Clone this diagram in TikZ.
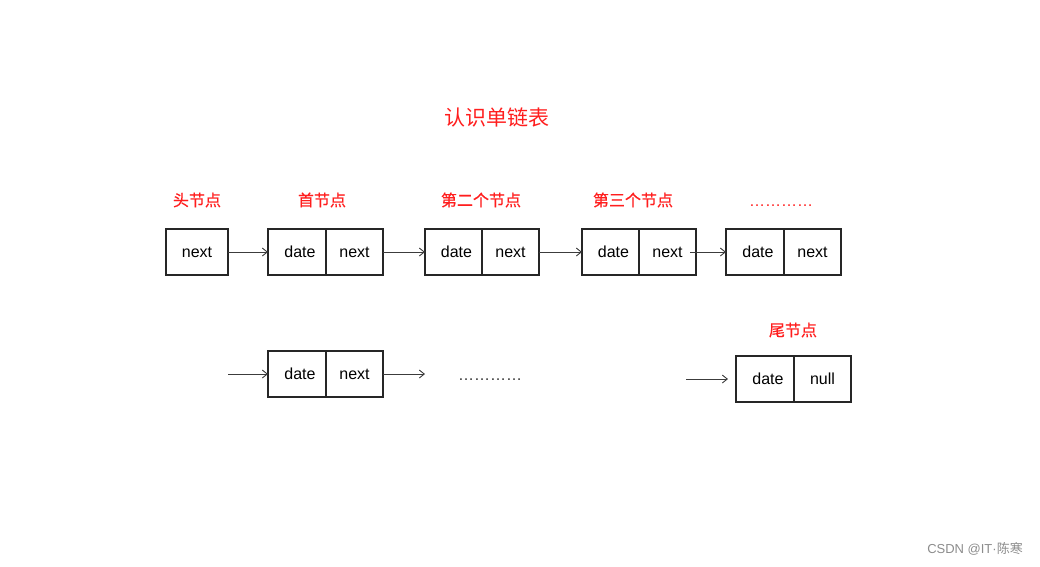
\documentclass[tikz,border=0pt]{standalone}
\usepackage{fontspec}
\setmainfont{Liberation Sans}
\newfontfamily\cjk{Noto Sans CJK SC}
\newfontfamily\cjkm{Noto Sans CJK SC}[FakeBold=0.6]
\usetikzlibrary{arrows.meta}
\definecolor{lbred}{RGB}{255,30,30}
\definecolor{edgegray}{RGB}{60,60,60}
\begin{document}
\begin{tikzpicture}[x=1pt,y=-1pt,
  cell/.style={draw=black!85,line width=1.3pt,minimum height=46pt,minimum width=57pt,inner sep=0pt,outer sep=0pt,font=\fontsize{16}{18}\selectfont},
  headcell/.style={cell,minimum width=62pt},
  lbl/.style={text=lbred,font=\cjkm\fontsize{16}{18}\selectfont,inner sep=0pt},
  link/.style={draw=edgegray,line width=0.9pt,-{Straight Barb[length=5pt,width=8pt]}}]
\useasboundingbox (0,0) rectangle (1040,566);
% title
\node[lbl,font=\cjk\fontsize{21}{24}\selectfont] (title) at (497,117) {认识单链表};
% labels
\node[lbl] (lh) at (197,200) {头节点};
\node[lbl] (l1) at (322,200) {首节点};
\node[lbl] (l2) at (481,200) {第二个节点};
\node[lbl] (l3) at (633,200) {第三个节点};
\node[lbl,font=\fontsize{16}{18}\selectfont] (l4) at (781,206) {…………};
\node[lbl] (lt) at (793,330) {尾节点};
% row 1
\node[headcell] (h) at (197,252) {next};
\node[cell,minimum width=58pt] (a1) at (297,252) {\hspace*{6pt}date};
\node[cell] (a2) at (354.5,252) {next};
\node[cell] (b1) at (453.5,252) {\hspace*{6pt}date};
\node[cell] (b2) at (510.5,252) {next};
\node[cell] (c1) at (610.5,252) {\hspace*{6pt}date};
\node[cell] (c2) at (667.5,252) {next};
\node[cell,minimum width=58pt] (d1) at (755,252) {\hspace*{6pt}date};
\node[cell] (d2) at (812.5,252) {next};
\draw[link] (h.east) -- (a1.west);
\draw[link] (a2.east) -- (b1.west);
\draw[link] (b2.east) -- (c1.west);
\draw[link] ([xshift=-6pt]c2.east) -- (d1.west);
% row 2
\node[cell,minimum width=58pt] (e1) at (297,374) {\hspace*{6pt}date};
\node[cell] (e2) at (354.5,374) {next};
\coordinate (s2) at (228,374);
\coordinate (f2) at (425,374);
\draw[link] (s2) -- (e1.west);
\draw[link] (e2.east) -- (f2);
\node[inner sep=0pt,font=\fontsize{16}{18}\selectfont,text=black!80] (dots) at (490,380) {…………};
\node[cell,minimum width=58pt] (t1) at (765,379) {\hspace*{6pt}date};
\node[cell] (t2) at (822.5,379) {null};
\coordinate (st) at (686,379);
\coordinate (ft) at (728,379);
\draw[link] (st) -- (ft);
% watermark
\node[inner sep=0pt,text=black!45,font=\fontsize{13}{15}\selectfont] (wm) at (975,549) {CSDN @IT·{\cjk 陈寒}};
\end{tikzpicture}
\end{document}
